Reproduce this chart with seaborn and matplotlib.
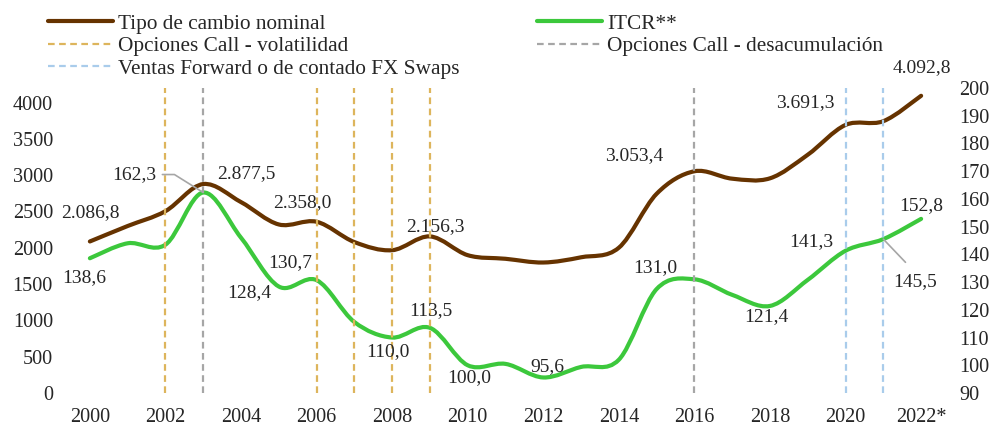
import numpy as np
import pandas as pd
import matplotlib
matplotlib.use("Agg")
import matplotlib.pyplot as plt
import seaborn as sns
from matplotlib.path import Path
from matplotlib.patches import PathPatch
from matplotlib.lines import Line2D

# ---------------- data ----------------
years = list(range(2000, 2023))
tcn = [2086.8, 2299.6, 2504.2, 2877.5, 2628.6, 2320.8, 2358.0, 2078.4, 1966.3, 2156.3,
       1897.9, 1848.2, 1796.9, 1868.8, 2000.7, 2743.4, 3053.4, 2951.3, 2956.4, 3281.1,
       3691.3, 3743.1, 4092.8]
itcr = [138.6, 144.0, 143.5, 162.3, 146.0, 128.4, 130.7, 115.6, 110.0, 113.5,
        100.0, 100.5, 95.6, 99.4, 102.0, 127.5, 131.0, 125.4, 121.4, 130.8,
        141.3, 145.5, 152.8]
xtick_vals = list(range(2000, 2023, 2))
xtick_labels = ["2000", "2002", "2004", "2006", "2008", "2010", "2012", "2014",
                "2016", "2018", "2020", "2022*"]
yl_ticks = list(range(0, 4001, 500))
yr_ticks = list(range(90, 201, 10))
vol_years = [2002, 2006, 2007, 2008, 2009]
desac_years = [2003, 2016]
fwd_years = [2020, 2021]

# labelled points: (year, offset_x_px, offset_y_px)
tcn_labels = [(2000, 0, 29), (2003, 43, 10), (2006, -14, 19), (2009, 5, 10),
              (2016, -60, 16), (2020, -40, 22), (2022, 1, 28)]
itcr_labels = [(2000, -6, -19), (2005, -30, -6), (2006, -26, 18), (2008, -4, -14),
               (2009, 1, 17), (2010, 2, -12), (2012, 4, 11), (2016, -39, 12),
               (2018, -4, -11), (2020, -34, 9), (2022, 0, 13)]

labels = ["Tipo de cambio nominal", "ITCR**", "Opciones Call - volatilidad",
          "Opciones Call - desacumulación", "Ventas Forward o de contado FX Swaps"]

# ---------------- style ----------------
C_BROWN = "#663300"
C_GREEN = "#3CC83C"
C_GOLD = "#DDB55C"
C_GREY = "#A6A6A6"
C_BLUE = "#A9CCEB"
TXT = "#262626"

sns.set_theme(style="white")
plt.rcParams["font.family"] = ["Liberation Serif", "DejaVu Serif"]
FS = 14
FS_TICK = 14.6
FS_LEG = 15.3

fig = plt.figure(figsize=(9.92, 4.26), dpi=100)
ax = fig.add_axes([71 / 992, 33 / 426, 869 / 992, 305 / 426])
ax2 = ax.twinx()


def fmt(v):
    s = f"{v:,.1f}"
    return s.replace(",", "X").replace(".", ",").replace("X", ".")


def smooth(line, axis, color, lw):
    """Render a seaborn line as an Excel-style smoothed curve."""
    pts = line.get_xydata()
    n = len(pts)
    verts = [pts[0]]
    codes = [Path.MOVETO]
    for i in range(n - 1):
        p0 = pts[i - 1] if i > 0 else pts[i]
        p1 = pts[i]
        p2 = pts[i + 1]
        p3 = pts[i + 2] if i + 2 < n else pts[i + 1]
        c1 = p1 + (p2 - p0) / 6.0
        c2 = p2 - (p3 - p1) / 6.0
        verts += [c1, c2, p2]
        codes += [Path.CURVE4] * 3
    patch = PathPatch(Path(verts, codes), facecolor="none", edgecolor=color,
                      lw=lw, capstyle="round", joinstyle="round", zorder=3)
    axis.add_patch(patch)
    line.set_visible(False)


df = pd.DataFrame({"year": years, "tcn": tcn, "itcr": itcr})
sns.lineplot(data=df, x="year", y="tcn", ax=ax, color=C_BROWN, lw=3, legend=False)
sns.lineplot(data=df, x="year", y="itcr", ax=ax2, color=C_GREEN, lw=3, legend=False)
smooth(ax.lines[-1], ax, C_BROWN, 3)
smooth(ax2.lines[-1], ax2, C_GREEN, 3)

dash = (3, 2)
for yv in vol_years:
    ax2.axvline(yv, color=C_GOLD, lw=1.6, dashes=dash, zorder=4)
for yv in desac_years:
    ax2.axvline(yv, color=C_GREY, lw=1.6, dashes=dash, zorder=4)
for yv in fwd_years:
    ax2.axvline(yv, color=C_BLUE, lw=1.6, dashes=dash, zorder=4)

ax.set_xlim(1999.5, 2022.5)
ax.set_ylim(0, 4200)
ax2.set_ylim(90, 200)
ax.set_xticks(xtick_vals)
ax.set_xticklabels(xtick_labels)
ax.set_yticks(yl_ticks)
ax2.set_yticks(yr_ticks)
ax.set_xlabel("")
ax.set_ylabel("")
ax2.set_ylabel("")
for a in (ax, ax2):
    for sp in a.spines.values():
        sp.set_visible(False)
    a.grid(False)
ax.tick_params(axis="x", length=0, pad=11, labelsize=FS_TICK, colors=TXT)
ax.tick_params(axis="y", length=0, pad=13, labelsize=FS_TICK, colors=TXT)
ax2.tick_params(axis="y", length=0, pad=14, labelsize=FS_TICK, colors=TXT)

# ---------------- data labels ----------------
for (yr, dx, dy) in tcn_labels:
    v = tcn[years.index(yr)]
    ax.annotate(fmt(v), (yr, v), xytext=(dx, dy), textcoords="offset pixels",
                ha="center", va="center", fontsize=FS, color=TXT, zorder=6)
for (yr, dx, dy) in itcr_labels:
    v = itcr[years.index(yr)]
    ax2.annotate(fmt(v), (yr, v), xytext=(dx, dy), textcoords="offset pixels",
                 ha="center", va="center", fontsize=FS, color=TXT, zorder=6)

# labels with leader lines
v03 = itcr[years.index(2003)]
ax2.annotate(fmt(v03), (2003, v03), xytext=(-69, 18), textcoords="offset pixels",
             ha="center", va="center", fontsize=FS, color=TXT, zorder=6,
             arrowprops=dict(arrowstyle="-", color=C_GREY, lw=1.2, relpos=(1.0, 0.5),
                             shrinkA=2, shrinkB=0,
                             connectionstyle="angle,angleA=0,angleB=148,rad=0"))
v21 = itcr[years.index(2021)]
ax2.annotate(fmt(v21), (2021, v21), xytext=(32, -42), textcoords="offset pixels",
             ha="center", va="center", fontsize=FS, color=TXT, zorder=6,
             arrowprops=dict(arrowstyle="-", color=C_GREY, lw=1.2, relpos=(0.5, 1.0),
                             shrinkA=7, shrinkB=0))

# ---------------- legend ----------------
handles = [
    Line2D([], [], color=C_BROWN, lw=3),
    Line2D([], [], color=C_GOLD, lw=1.6, dashes=dash),
    Line2D([], [], color=C_BLUE, lw=1.6, dashes=dash),
    Line2D([], [], color=C_GREEN, lw=3),
    Line2D([], [], color=C_GREY, lw=1.6, dashes=dash),
]
leg_labels = [labels[0], labels[2], labels[4], labels[1], labels[3]]
fig.legend(handles, leg_labels, loc="upper left", bbox_to_anchor=(48 / 992, 1 - 14 / 426),
           ncol=2, frameon=False, fontsize=FS_LEG, handlelength=3.06, handletextpad=0.23,
           columnspacing=3.67, labelspacing=0.12, borderpad=0, borderaxespad=0,
           labelcolor=TXT)

fig.savefig("out.png", dpi=100)
